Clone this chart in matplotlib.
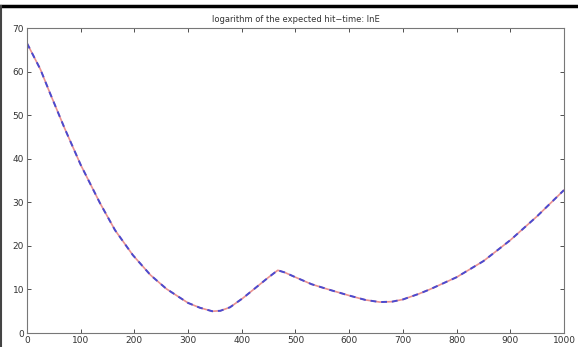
import matplotlib
matplotlib.use("Agg")
import numpy as np
import matplotlib.pyplot as plt
from matplotlib.lines import Line2D

# values
x_pts = [0, 25, 43, 70, 100, 136, 164, 197, 230, 260, 300, 322, 345, 360, 378, 402,
         430, 450, 467, 480, 500, 530, 564, 600, 630, 657, 680, 700, 730, 750,
         800, 850, 900, 950, 1000]
lnE = [66.5, 60.5, 55.0, 47.0, 38.6, 29.8, 23.6, 17.9, 13.3, 10.1, 6.9, 5.8, 5.0, 5.1, 5.9, 8.0,
       10.8, 12.8, 14.4, 13.9, 12.8, 11.2, 9.9, 8.6, 7.6, 7.1, 7.2, 7.7, 9.0, 10.0,
       12.8, 16.5, 21.3, 26.8, 32.8]

xticks = [0, 100, 200, 300, 400, 500, 600, 700, 800, 900, 1000]
yticks = [0, 10, 20, 30, 40, 50, 60, 70]

fig = plt.figure(figsize=(5.78, 3.47), dpi=100)
ax = fig.add_axes([0.0467, 0.0403, 0.929, 0.879])

ax.plot(x_pts, lnE, color="#e89090", lw=1.2, solid_capstyle="round")
ax.plot(x_pts, lnE, color="#4a4ad0", lw=1.4, ls=(0, (3, 2.5)))

ax.set_xlim(0, 1000)
ax.set_ylim(0, 70)
ax.set_xticks(xticks)
ax.set_yticks(yticks)
ax.tick_params(direction="in", length=3, width=0.6, labelsize=6.5, colors="#333333",
               top=True, right=True, pad=2)
for s in ax.spines.values():
    s.set_color("#777777")
    s.set_linewidth(0.8)

ax.set_title("logarithm of the expected hit\u2212time: lnE", fontsize=6, color="#333333", pad=4)

# black frame of the original screenshot
fig.add_artist(Line2D([0, 1], [0.983, 0.983], color="black", lw=2.5, transform=fig.transFigure))
fig.add_artist(Line2D([0.002, 0.002], [0, 0.983], color="#444444", lw=1.5, transform=fig.transFigure))

fig.savefig("out.png", dpi=100)
